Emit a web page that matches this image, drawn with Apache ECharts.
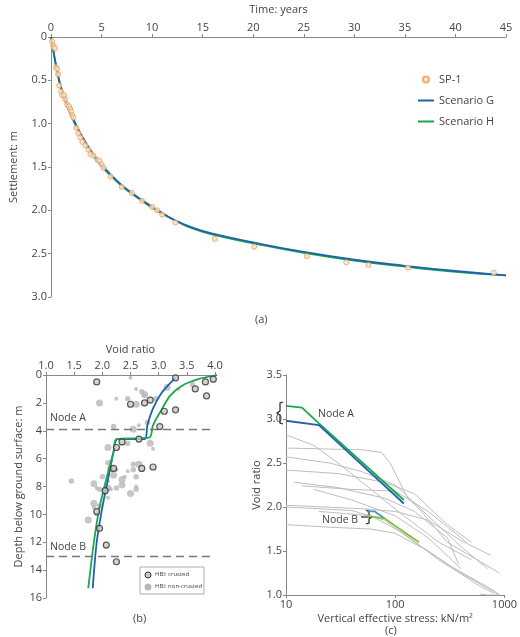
<!DOCTYPE html>
<html><head><meta charset="utf-8">
<script src="https://cdn.jsdelivr.net/npm/echarts@6/dist/echarts.min.js"></script>
<style>html,body{margin:0;padding:0;background:#fff}#c{width:520px;height:637px}</style>
</head><body><div id="c"></div>
<script>
// (a) settlement vs time
const sp1 = [[0.1,0.05],[0.2,0.1],[0.3,0.12],[0.4,0.13],[0.5,0.35],[0.6,0.37],[0.7,0.43],[0.8,0.56],[1.0,0.63],[1.1,0.67],[1.3,0.67],[1.4,0.72],[1.6,0.78],[1.8,0.8],[1.9,0.83],[2.0,0.86],[2.1,0.9],[2.2,0.93],[2.5,1.05],[2.7,1.11],[2.9,1.16],[3.1,1.21],[3.4,1.25],[3.7,1.3],[3.9,1.35],[4.2,1.37],[4.6,1.42],[4.8,1.43],[5.0,1.47],[5.2,1.51],[5.9,1.61],[7.0,1.73],[8.0,1.8],[9.0,1.89],[10.0,1.96],[10.5,2.0],[11.0,2.05],[12.3,2.14],[16.2,2.33],[20.1,2.42],[25.3,2.53],[29.2,2.6],[31.4,2.63],[35.3,2.66],[43.8,2.72]];
const scenG = [[0,0],[0.3,0.2],[0.6,0.38],[1,0.58],[1.5,0.75],[2,0.89],[3,1.13],[4,1.32],[5,1.47],[6,1.6],[7,1.71],[8,1.8],[9,1.88],[10,1.96],[11,2.03],[12,2.1],[14,2.2],[16,2.27],[20,2.37],[25,2.48],[30,2.57],[35,2.64],[40,2.7],[45,2.75]];
const scenH = [[0,0],[0.3,0.21],[0.6,0.4],[1,0.6],[1.5,0.77],[2,0.91],[3,1.15],[4,1.34],[5,1.49],[6,1.61],[7,1.72],[8,1.81],[9,1.89],[10,1.97],[11,2.04],[12,2.1],[14,2.21],[16,2.28],[20,2.38],[25,2.49],[30,2.58],[35,2.65],[40,2.71],[45,2.75]];

// (b) void ratio vs depth
const crusted = [[1.9,0.5],[3.3,0.2],[3.65,1.0],[3.83,0.5],[3.97,0.3],[3.85,1.5],[2.5,2.1],[2.75,2.0],[2.85,1.8],[3.1,2.6],[3.3,2.5],[3.02,3.7],[2.65,4.6],[2.35,4.8],[2.25,5.2],[2.2,6.7],[2.7,6.7],[2.9,6.6],[2.05,8.3],[1.9,9.8],[1.95,11.0],[2.07,12.2],[2.25,13.4]];
const nonCrusted = [[2.5,0.2],[2.7,1.2],[2.75,1.4],[2.75,1.5],[2.95,1.7],[3.15,0.9],[3.35,1.0],[3.6,0.7],[1.95,2.0],[2.25,1.7],[2.45,1.7],[2.6,2.1],[2.6,1.0],[2.2,3.7],[2.55,3.9],[2.65,3.6],[2.8,3.4],[2.85,4.9],[2.9,5.3],[2.45,4.9],[2.1,5.2],[2.15,6.2],[2.1,6.3],[2.15,6.7],[2.25,6.8],[2.55,6.4],[2.65,6.4],[2.45,6.9],[2.55,6.8],[2.2,7.2],[2.4,7.3],[2.6,7.3],[2.35,7.5],[2.1,7.6],[2.0,7.3],[1.85,7.8],[1.9,8.1],[1.95,8.2],[2.1,8.1],[2.15,8.2],[2.25,8.1],[2.35,7.9],[2.6,8.0],[2.6,8.2],[2.5,8.5],[2.1,8.8],[1.45,7.6],[1.85,9.2],[1.85,9.5],[1.95,9.4],[1.75,10.4],[1.9,10.0]];
const profileG = [[1.83,15.3],[1.9,12],[2.0,9.5],[2.1,7.5],[2.2,5.5],[2.27,4.6],[2.75,4.6],[2.8,3.6],[2.9,2.4],[3.05,1.3],[3.2,0.6],[3.3,0.2]];
const profileH = [[1.75,15.3],[1.85,12],[1.95,9.5],[2.1,7.0],[2.2,5.5],[2.25,4.6],[2.83,4.5],[2.9,3.6],[3.05,2.5],[3.2,1.5],[3.4,0.8],[3.7,0.3],[4.05,0.0]];
const nodeDepths = [3.9, 13.0];

// (c) compression curves
const nodeAG = [[10,2.98],[20,2.93],[120,2.04]];
const nodeAH = [[10,3.15],[14,3.13],[20,2.95],[120,2.08]];
const nodeBG = [[55,1.95],[65,1.95],[80,1.87]];
const nodeBH = [[55,1.9],[80,1.87],[165,1.6]];
const oedo = [
  [[10,2.82],[18,2.7],[30,2.5],[60,2.2],[120,1.9],[250,1.6],[500,1.4]],
  [[10,2.67],[50,2.65],[75,2.62],[90,2.5],[130,2.1],[160,2.0],[300,1.6],[900,1.25]],
  [[10,2.57],[25,2.5],[50,2.4],[100,2.25],[200,1.9],[400,1.55],[700,1.3]],
  [[10,2.42],[30,2.38],[80,2.28],[150,2.15],[300,1.8],[500,1.6]],
  [[12,2.28],[30,2.22],[80,2.1],[150,1.95],[300,1.65],[380,1.35]],
  [[14,2.24],[40,2.2],[100,2.18],[200,1.95],[450,1.6]],
  [[18,2.2],[40,2.08],[100,1.9],[200,1.65],[400,1.3]],
  [[10,2.02],[50,1.98],[100,1.95],[200,1.85],[400,1.62],[750,1.45]],
  [[10,2.0],[40,1.96],[80,1.85],[150,1.6],[300,1.35],[800,1.05],[900,1.0]],
  [[20,1.95],[60,1.9],[120,1.7],[250,1.4],[600,1.1],[800,1.02]],
  [[10,1.8],[25,1.77],[60,1.75],[100,1.7],[200,1.5],[400,1.25],[900,1.0]],
  [[600,1.01],[700,1.0],[900,1.0]]
];

const FONT = '"Open Sans", "Noto Sans", sans-serif';
const TXT = '#444';
const BLUE = '#1f63ad', GREEN = '#19a84a';
const axisBase = {
  axisLine: {lineStyle: {color: '#888'}},
  axisTick: {lineStyle: {color: '#888'}, length: 3},
  axisLabel: {color: TXT, fontFamily: FONT, fontSize: 11, margin: 4},
  splitLine: {show: false},
  nameTextStyle: {color: TXT, fontFamily: FONT, fontSize: 11}
};
const chart = echarts.init(document.getElementById('c'));
const line = (name, data, color, xi, extra) => Object.assign({
  name, type: 'line', data, xAxisIndex: xi, yAxisIndex: xi, showSymbol: false, symbol: 'none',
  smooth: false, lineStyle: {color, width: 1.8}, itemStyle: {color}, z: 4, silent: true
}, extra || {});

const series = [
  {name: 'SP-1', type: 'scatter', data: sp1, xAxisIndex: 0, yAxisIndex: 0, symbolSize: 5, z: 5,
   itemStyle: {color: '#fde3c8', borderColor: '#ef9a55', borderWidth: 1}},
  line('Scenario G', scenG, BLUE, 0, {smooth: true}),
  line('Scenario H', scenH, GREEN, 0, {smooth: true, z: 3}),
  {name: 'HBI: non-crusted', type: 'scatter', data: nonCrusted, xAxisIndex: 1, yAxisIndex: 1,
   symbolSize: (v, p) => 4 + (p.dataIndex % 3) * 1.5, itemStyle: {color: '#b8b8b8'}},
  {name: 'HBI: crusted', type: 'scatter', data: crusted, xAxisIndex: 1, yAxisIndex: 1, symbolSize: 6,
   itemStyle: {color: '#c8c8c8', borderColor: '#333', borderWidth: 1.2}, z: 5},
  line('pG', profileG, BLUE, 1, {smooth: 0.3}),
  line('pH', profileH, GREEN, 1, {smooth: 0.3,
    markLine: {symbol: 'none', silent: true, lineStyle: {color: '#777', type: [8, 5], width: 1.4},
      label: {show: false}, data: nodeDepths.map(d => ({yAxis: d}))}})
];
oedo.forEach((d, i) => series.push(line('o' + i, d, '#bdbdbd', 2, {lineStyle: {color: '#bdbdbd', width: 1}, z: 2})));
series.push(line('aH', nodeAH, GREEN, 2), line('aG', nodeAG, BLUE, 2),
  line('bG', nodeBG, '#4a8fd8', 2), line('bH', nodeBH, '#7cc43a', 2));

const t = (text, x, y, size, extra) => Object.assign({type: 'text', x, y,
  style: {text, fill: TXT, font: (size || 11) + 'px ' + FONT}}, extra || {});
const br = (pts) => ({type: 'polyline', shape: {points: pts}, style: {stroke: '#222', lineWidth: 1.2, fill: null}});

chart.setOption({
  animation: false,
  textStyle: {fontFamily: FONT},
  grid: [
    {left: 47, top: 37, width: 459, height: 260},
    {left: 46, top: 375, width: 169, height: 223},
    {left: 286, top: 375, width: 220, height: 220}
  ],
  xAxis: [
    Object.assign({}, axisBase, {gridIndex: 0, type: 'value', position: 'top', min: 0, max: 45, interval: 5,
      name: 'Time: years', nameLocation: 'middle', nameGap: 22}),
    Object.assign({}, axisBase, {gridIndex: 1, type: 'value', position: 'top', min: 1, max: 4, interval: 0.5,
      name: 'Void ratio', nameLocation: 'middle', nameGap: 20,
      axisLabel: Object.assign({}, axisBase.axisLabel, {formatter: v => v.toFixed(1)})}),
    Object.assign({}, axisBase, {gridIndex: 2, type: 'log', min: 10, max: 1000, logBase: 10,
      name: 'Vertical effective stress: kN/m²', nameLocation: 'middle', nameGap: 18,
      axisLabel: Object.assign({}, axisBase.axisLabel, {formatter: v => String(Math.round(v))}),
      minorTick: {show: false}})
  ],
  yAxis: [
    Object.assign({}, axisBase, {gridIndex: 0, type: 'value', inverse: true, min: 0, max: 3, interval: 0.5,
      name: 'Settlement: m', nameLocation: 'middle', nameGap: 32,
      axisLabel: Object.assign({}, axisBase.axisLabel, {formatter: v => v === 0 ? '0' : v.toFixed(1)})}),
    Object.assign({}, axisBase, {gridIndex: 1, type: 'value', inverse: true, min: 0, max: 16, interval: 2,
      name: 'Depth below ground surface: m', nameLocation: 'middle', nameGap: 22}),
    Object.assign({}, axisBase, {gridIndex: 2, type: 'value', min: 1, max: 3.5, interval: 0.5,
      name: 'Void ratio', nameLocation: 'middle', nameGap: 20,
      axisLabel: Object.assign({}, axisBase.axisLabel, {formatter: v => v.toFixed(1)})})
  ],
  legend: {data: [{name: 'SP-1', icon: 'circle'},
      {name: 'Scenario G', itemStyle: {opacity: 0}}, {name: 'Scenario H', itemStyle: {opacity: 0}}],
    orient: 'vertical', left: 412, top: 69,
    itemGap: 10, itemWidth: 16, itemHeight: 6, textStyle: {color: TXT, fontFamily: FONT, fontSize: 11}},
  series,
  graphic: [
    t('(a)', 255, 314),
    t('(b)', 133, 613),
    t('(c)', 385, 625),
    t('Node A', 50, 413, 10.5),
    t('Node B', 50, 542, 10.5),
    t('Node A', 318, 409, 10.5),
    t('Node B', 322, 515, 10.5),
    {type: 'rect', shape: {x: 140, y: 567, width: 64, height: 27}, style: {fill: '#fff', stroke: '#999', lineWidth: 0.8}},
    {type: 'circle', shape: {cx: 148, cy: 575, r: 3}, style: {fill: '#c8c8c8', stroke: '#333', lineWidth: 1}},
    {type: 'circle', shape: {cx: 148, cy: 587, r: 3.5}, style: {fill: '#b8b8b8'}},
    t('HBI: crusted', 155, 571, 6),
    t('HBI: non-crusted', 155, 583, 6),
    br([[283, 402], [280, 403], [280, 411], [277, 413], [280, 415], [280, 423], [283, 424]]),
    br([[366, 510], [369, 511], [369, 515], [372, 517], [369, 519], [369, 523], [366, 524]]),
    br([[361, 517], [372, 517]])
  ]
});
</script></body></html>
